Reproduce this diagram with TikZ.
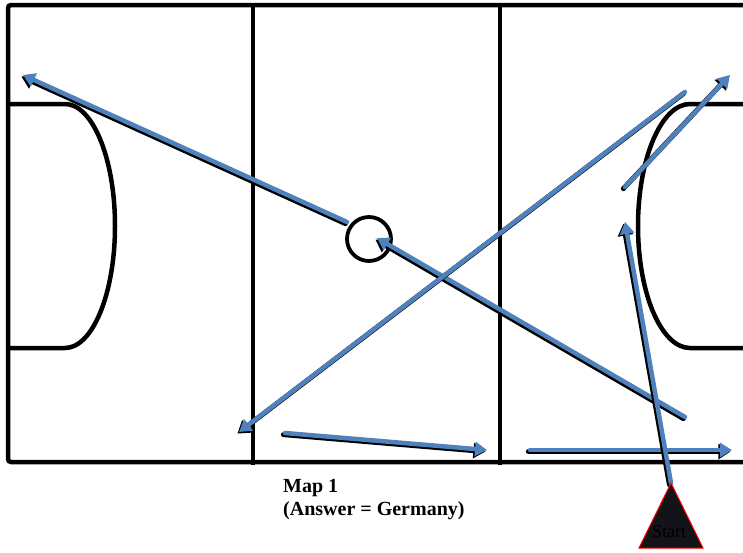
\documentclass[tikz,border=0pt]{standalone}
\usepackage{fontspec}
\setmainfont{Liberation Serif}
\usetikzlibrary{arrows.meta,calc}
\definecolor{passblue}{RGB}{79,129,189}
\definecolor{conefill}{RGB}{20,20,24}
\newcommand\passarrow[2]{%
  \draw[arrshadow] (#1) -- (#2);
  \draw[arrblue] (#1) -- (#2);
}
\begin{document}
\begin{tikzpicture}[x=1pt,y=-1pt,
  pitchline/.style={draw=black, line width=4.5pt},
  arrshadow/.style={draw=black, line width=5pt, line cap=round,
    -{Triangle[length=12pt,width=15pt]},
    transform canvas={xshift=-1.6pt,yshift=-1.6pt}},
  arrblue/.style={draw=passblue, line width=4.5pt, line cap=round,
    -{Triangle[length=12pt,width=14pt]}},
  conestyle/.style={draw=red, line width=1pt, fill=conefill},
  labeltext/.style={font=\bfseries\fontsize{20}{23}\selectfont, inner sep=0pt, anchor=base west}
]
\useasboundingbox (0,0) rectangle (743,552);
\clip (0,0) rectangle (743,552);
\fill[white] (0,0) rectangle (743,552);

% pitch
\draw[pitchline, rounded corners=3pt] (760,5) -- (8,5) -- (8,462) -- (760,462);
\draw[pitchline] (253,7) -- (253,465);
\draw[pitchline] (500,7) -- (500,465);
\draw[pitchline] (8,104) -- (65,104)
  arc[start angle=-90, end angle=90, x radius=50, y radius=122] -- (8,348);
\draw[pitchline] (760,104) -- (690,104)
  arc[start angle=-90, end angle=-270, x radius=52, y radius=122] -- (760,348);
\draw[pitchline, line width=3.8pt] (369,239) circle[radius=22];

% arrow end points
\coordinate (a1s) at (347,222); \coordinate (a1e) at (23,75);
\coordinate (a2s) at (685,417); \coordinate (a2e) at (377,238);
\coordinate (a3s) at (685,92);  \coordinate (a3e) at (239,432);
\coordinate (a4s) at (285,433); \coordinate (a4e) at (487,450);
\coordinate (a5s) at (530,450); \coordinate (a5e) at (732,450);
\coordinate (a6s) at (671,483); \coordinate (a6e) at (625,222);
\coordinate (a7s) at (625,187); \coordinate (a7e) at (730,75);

\passarrow{a1s}{a1e}
\passarrow{a2s}{a2e}
\passarrow{a3s}{a3e}
\passarrow{a4s}{a4e}
\passarrow{a5s}{a5e}
\passarrow{a6s}{a6e}
\passarrow{a7s}{a7e}

% start cone
\draw[conestyle] (671,483) -- (639,548) -- (703,548) -- cycle;
\node[font=\fontsize{18}{18}\selectfont, anchor=base, inner sep=0pt] (start) at (669,537) {Start};

% label
\node[labeltext] (map) at (283,492) {Map 1};
\node[labeltext] (answer) at (283,515) {(Answer = Germany)};
\end{tikzpicture}
\end{document}
